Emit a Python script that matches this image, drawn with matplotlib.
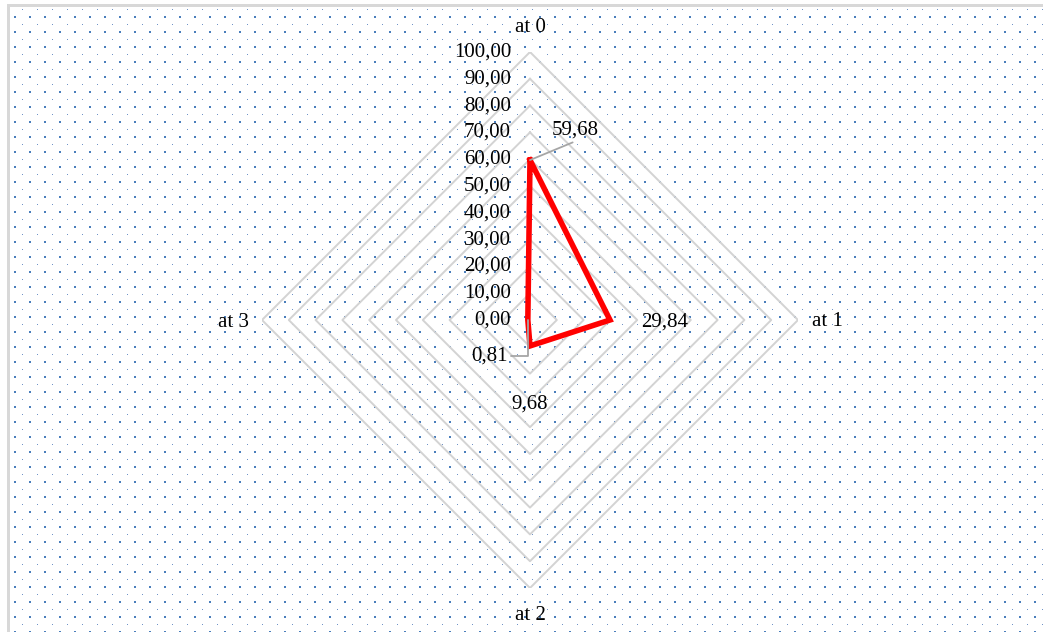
import numpy as np
import matplotlib
matplotlib.use("Agg")
import matplotlib.pyplot as plt

plt.rcParams['font.family'] = ['Liberation Serif', 'DejaVu Serif']

# series
categories = ["at 0", "at 1", "at 2", "at 3"]
values = [59.68, 29.84, 9.68, 0.81]
value_labels = ["59,68", "29,84", "9,68", "0,81"]
ring_levels = [10, 20, 30, 40, 50, 60, 70, 80, 90, 100]
ring_labels = ["0,00", "10,00", "20,00", "30,00", "40,00", "50,00",
               "60,00", "70,00", "80,00", "90,00", "100,00"]

W, H = 1043, 632
fig = plt.figure(figsize=(W / 100, H / 100), dpi=100)
fig.patch.set_facecolor("white")

# dotted chart-area fill with a light frame, built as a pixel raster
fill = np.ones((H, W, 3))
big = np.array([0x4a, 0x7e, 0xbb]) / 255
small = np.array([0x6f, 0x93, 0xc8]) / 255
for y in range(16, H, 15):
    for x in range(14, W, 15):
        fill[y:y + 2, x:x + 2] = big
for y in range(9, H, 15):
    fill[y, 22::15] = small
fill[:, :7] = 1
fill[:4, :] = 1
fill[4:7, 7:] = 0.85
fill[4:, 7:10] = 0.85

bg = fig.add_axes([0, 0, 1, 1])
bg.imshow(fill, extent=(0, W, H, 0), interpolation="nearest", aspect="auto")
bg.set_xlim(0, W)
bg.set_ylim(H, 0)
bg.axis("off")

# radar axes: centre (530, 320), radius 268 px
cx, cy, R = 530, 320, 268
ax = fig.add_axes([(cx - R) / W, (H - cy - R) / H, 2 * R / W, 2 * R / H],
                  projection="polar")
ax.set_theta_zero_location("N")
ax.set_theta_direction(-1)
ax.set_ylim(0, 100)
ax.grid(False)
ax.set_xticks([])
ax.set_yticks([])
ax.spines["polar"].set_visible(False)
ax.patch.set_alpha(0)

theta = np.arange(len(categories)) * np.pi / 2
theta_c = np.append(theta, theta[0])

for lv in ring_levels:
    ax.plot(theta_c, [lv] * len(theta_c), color="#d3d3d3", lw=1.4, zorder=1)

vals_c = np.append(values, values[0])
ax.plot(theta_c, vals_c, color="#ff0000", lw=4.0, zorder=3,
        solid_joinstyle="miter")

fs = 15
# radial scale labels
for i, lab in enumerate(ring_labels):
    ax.annotate(lab, xy=(0, i * 10), xytext=(-19, 0), textcoords="offset pixels",
                ha="right", va="center", fontsize=fs, annotation_clip=False)

# category labels
cat_offsets = [(0, 25), (29, -2), (0, -27), (-29, -2)]
for t, lab, off in zip(theta, categories, cat_offsets):
    ax.annotate(lab, xy=(t, 100), xytext=off, textcoords="offset pixels",
                ha="center", va="center", fontsize=fs, annotation_clip=False)

# data labels
lead = dict(arrowstyle="-", color="#a6a6a6", lw=1.3, shrinkA=0, shrinkB=0)
ax.annotate(value_labels[0], xy=(theta[0], values[0]), xytext=(45, 30),
            textcoords="offset pixels", ha="center", va="center", fontsize=fs,
            arrowprops=dict(lead, relpos=(0.45, -0.15)), annotation_clip=False)
ax.annotate(value_labels[1], xy=(theta[1], values[1]), xytext=(55, -2),
            textcoords="offset pixels", ha="center", va="center", fontsize=fs,
            annotation_clip=False)
ax.annotate(value_labels[2], xy=(theta[2], values[2]), xytext=(0, -58),
            textcoords="offset pixels", ha="center", va="center", fontsize=fs,
            annotation_clip=False)
ax.annotate(value_labels[3], xy=(theta[3], values[3]), xytext=(-38, -36),
            textcoords="offset pixels", ha="center", va="center", fontsize=fs,
            arrowprops=dict(lead, relpos=(1.05, 0.5),
                            connectionstyle="angle,angleA=0,angleB=90,rad=0"),
            annotation_clip=False)

fig.savefig("out.png", dpi=100)
